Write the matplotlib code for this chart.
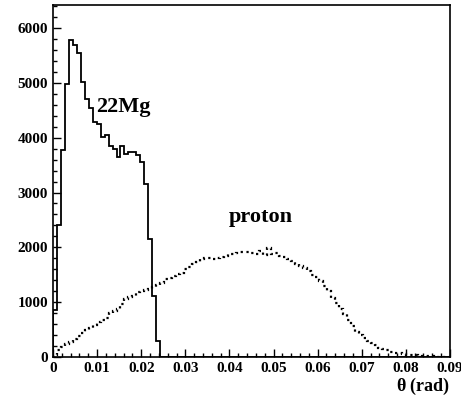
# %%
# Scattering angle distributions: 22Mg recoil vs proton, 100 bins over 0-0.09 rad
import numpy as np
import matplotlib.pyplot as plt
from matplotlib.ticker import MultipleLocator

plt.rcParams["font.family"] = ["Liberation Serif", "DejaVu Serif"]
plt.rcParams["font.weight"] = "bold"

N_BINS = 100
THETA_MIN, THETA_MAX = 0.0, 0.09

# counts per bin
mg22_counts = [
    860, 2400, 3780, 4980, 5785, 5690, 5550, 5010, 4700, 4540,
    4290, 4250, 4020, 4050, 3840, 3800, 3650, 3850, 3700, 3730,
    3740, 3680, 3550, 3150, 2150, 1120, 290,
]
proton_counts = [
    30, 120, 180, 240, 280, 330, 380, 430, 490, 530,
    590, 640, 680, 710, 800, 830, 880, 960, 1060, 1100,
    1120, 1180, 1200, 1220, 1240, 1280, 1320, 1350, 1420, 1440,
    1470, 1510, 1540, 1600, 1650, 1700, 1740, 1780, 1800, 1810,
    1790, 1800, 1830, 1850, 1870, 1880, 1900, 1920, 1910, 1920,
    1900, 1880, 1930, 1860, 1980, 1880, 1900, 1850, 1820, 1780,
    1760, 1700, 1660, 1620, 1560, 1500, 1450, 1380, 1290, 1200,
    1080, 980, 880, 780, 680, 560, 460, 400, 340, 300,
    250, 210, 170, 150, 120, 100, 80, 70, 60, 40,
    36, 30, 25, 20, 15, 10, 5, 0, 0, 0,
]

edges = np.linspace(THETA_MIN, THETA_MAX, N_BINS + 1)
mg22 = np.zeros(N_BINS)
mg22[:len(mg22_counts)] = mg22_counts
proton = np.array(proton_counts, dtype=float)

# %%
fig = plt.figure(figsize=(4.61, 4.0), dpi=100)
ax = fig.add_axes([0.115, 0.1075, 0.861, 0.88])

ax.stairs(mg22, edges, color="black", linewidth=1.3)
ax.stairs(proton, edges, color="black", linewidth=1.6, linestyle=(0, (1, 1.6)))

ax.set_xlim(THETA_MIN, THETA_MAX)
ax.set_ylim(0, 6420)
ax.xaxis.set_major_locator(MultipleLocator(0.01))
ax.xaxis.set_minor_locator(MultipleLocator(0.002))
ax.yaxis.set_major_locator(MultipleLocator(1000))
ax.yaxis.set_minor_locator(MultipleLocator(200))
ax.set_xticklabels(["0" if t == 0 else f"{t:.2f}" for t in ax.get_xticks()])

ax.tick_params(which="both", direction="in", top=False, right=False, labelsize=11)
ax.tick_params(which="major", length=6, width=1)
ax.tick_params(which="minor", length=3, width=1)
for s in ax.spines.values():
    s.set_linewidth(1.2)

ax.text(0.0097, 4470, "22Mg", fontsize=16, fontweight="bold")
ax.text(0.0398, 2460, "proton", fontsize=16, fontweight="bold")

ax.text(1.0, -0.055, r"$\mathregular{\theta}$ (rad)", transform=ax.transAxes,
        ha="right", va="top", fontsize=13, fontweight="bold")

fig.savefig("out.png", dpi=100)
